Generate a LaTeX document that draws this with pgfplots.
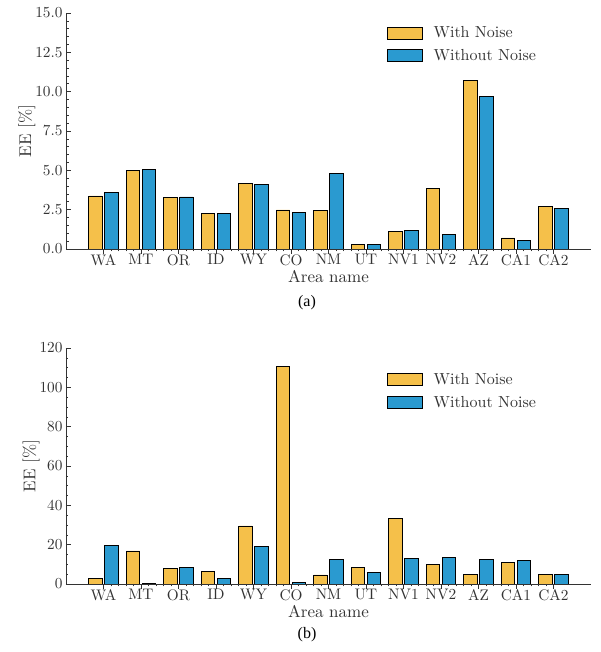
\documentclass[border=0pt]{standalone}
\usepackage{pgfplots}
\pgfplotsset{compat=1.18}
\usepackage{fontspec}
\setmainfont{lmroman10-regular}[Extension=.otf]
\newfontfamily\capfont{Liberation Serif}
\definecolor{cyel}{HTML}{F5C04A}
\definecolor{cblu}{HTML}{2A9AD0}
\definecolor{txt}{HTML}{333333}
\newcommand\fT{\fontsize{15.3}{18}\selectfont}
\newcommand\fL{\fontsize{17}{20}\selectfont}
\newcommand\fG{\fontsize{16}{19}\selectfont}
\pgfplotsset{
  common/.style={
    scale only axis, width=525pt, height=236pt,
    axis x line*=bottom, axis y line*=left,
    axis line style={txt, line width=0.8pt},
    tick align=inside, tick style={txt, line width=0.6pt},
    major tick length=5pt, minor tick length=2.5pt,
    xmin=-1, xmax=13,
    xtick={0,...,12},
    xticklabels={WA,MT,OR,ID,WY,CO,NM,UT,NV1,NV2,AZ,CA1,CA2},
    minor x tick num=4,
    /pgf/number format/assume math mode=true,
    tick label style={font=\fT, text=txt},
    xlabel={\fL Area name}, ylabel={\fL EE [\%]},
    xlabel style={text=txt, yshift=2.5pt},
    ylabel style={text=txt, yshift=-7pt},
    xticklabel style={yshift=3pt},
    ymin=0,
    ybar, bar width=13.4pt, bar shift auto,
    legend style={draw=none, fill=none, font=\fG, text=txt,
      legend cell align=left, row sep=6pt, anchor=north west,
      /tikz/every odd column/.append style={column sep=9pt}},
    legend image code/.code={\draw[#1, line width=0.8pt] (0pt,-6pt) rectangle (35pt,6pt);},
    legend plot pos=left,
  }
}
\begin{document}
\begin{tikzpicture}
\useasboundingbox (0,0) rectangle (600pt,652pt);
\begin{axis}[common, at={(66pt,403pt)}, anchor=south west,
  ymax=15, ytick={0,2.5,...,15}, minor y tick num=4,
  yticklabel style={/pgf/number format/.cd, fixed, fixed zerofill, precision=1},
  legend style={at={(0.605,0.96)}},
  ]
\addplot[draw=black, line width=0.8pt, fill=cyel, bar shift=-8pt] coordinates {
(0,3.37) (1,5.01) (2,3.29) (3,2.27) (4,4.18) (5,2.48) (6,2.44) (7,0.30) (8,1.10) (9,3.84) (10,10.69) (11,0.70) (12,2.69)};
\addplot[draw=black, line width=0.8pt, fill=cblu, bar shift=8pt] coordinates {
(0,3.61) (1,5.03) (2,3.31) (3,2.25) (4,4.12) (5,2.31) (6,4.82) (7,0.28) (8,1.19) (9,0.91) (10,9.70) (11,0.55) (12,2.57)};
\legend{With Noise, Without Noise}
\end{axis}
\node[font=\capfont\fontsize{16}{19}\selectfont] at (307pt,349pt) {(a)};
\begin{axis}[common, at={(66pt,68pt)}, anchor=south west,
  ymax=120, ytick={0,20,...,120}, minor y tick num=3,
  legend style={at={(0.605,0.91)}},
  ]
\addplot[draw=black, line width=0.8pt, fill=cyel, bar shift=-8pt] coordinates {
(0,2.9) (1,16.8) (2,7.8) (3,6.4) (4,29.5) (5,110.7) (6,4.6) (7,8.3) (8,33.3) (9,10.0) (10,4.9) (11,10.9) (12,4.8)};
\addplot[draw=black, line width=0.8pt, fill=cblu, bar shift=8pt] coordinates {
(0,19.5) (1,0.5) (2,8.5) (3,2.9) (4,19.3) (5,0.8) (6,12.7) (7,5.9) (8,12.9) (9,13.4) (10,12.6) (11,12.1) (12,4.9)};
\legend{With Noise, Without Noise}
\end{axis}
\node[font=\capfont\fontsize{16}{19}\selectfont] at (307pt,17pt) {(b)};
\end{tikzpicture}
\end{document}
